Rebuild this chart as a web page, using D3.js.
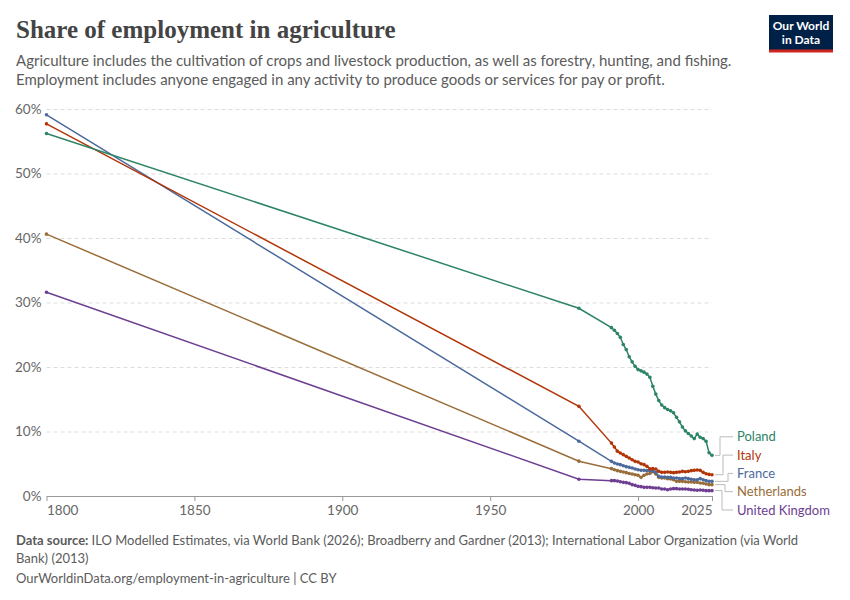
<!DOCTYPE html>
<html>
  <head>
    <meta charset="utf-8">
    <title>Share of employment in agriculture</title>
    <script src="https://cdn.jsdelivr.net/npm/d3@7"></script>
    <style>
      body { margin: 0; background: #fff; }
      text { font-family: Lato, "Noto Sans", sans-serif; }
    </style>
  </head>
  <body>
    <script>
     // data (share of employment in agriculture, %)
     let years = [1800, 1980,
       1991, 1992, 1993, 1994, 1995, 1996, 1997, 1998, 1999, 2000,
       2001, 2002, 2003, 2004, 2005, 2006, 2007, 2008, 2009, 2010,
       2011, 2012, 2013, 2014, 2015, 2016, 2017, 2018, 2019, 2020,
       2021, 2022, 2023, 2024, 2025];

     let poland = [56.2, 29.1,
       26.1, 25.7, 25.2, 24.6, 23.5, 22.7, 21.6, 20.8, 20.1, 19.6,
       19.4, 19.2, 18.9, 18.4, 17.0, 15.8, 14.8, 14.1, 13.7, 13.4,
       13.2, 12.9, 12.2, 11.5, 10.7, 10.1, 9.7, 9.3, 8.9, 9.6,
       9.1, 8.9, 8.5, 6.7, 6.3];
     let italy = [57.7, 13.9,
       8.2, 7.6, 6.95, 6.67, 6.41, 6.15, 5.89, 5.63, 5.37, 5.27,
       5.01, 4.86, 4.6, 4.2, 4.25, 4.19, 3.82, 3.67, 3.67, 3.72,
       3.67, 3.62, 3.67, 3.72, 3.82, 3.77, 3.82, 3.93, 3.98, 4.03,
       3.98, 3.67, 3.45, 3.35, 3.3];
     let france = [59.1, 8.5,
       5.37, 5.12, 4.96, 4.86, 4.7, 4.55, 4.44, 4.34, 4.19, 4.08,
       3.98, 3.98, 3.93, 3.93, 3.9, 3.67, 3.05, 2.94, 2.94, 2.89,
       2.89, 2.79, 2.79, 2.69, 2.69, 2.79, 2.69, 2.58, 2.53, 2.53,
       2.69, 2.53, 2.38, 2.27, 2.27];
     let netherlands = [40.6, 5.4,
       4.24, 4.08, 3.93, 3.82, 3.72, 3.62, 3.5, 3.4, 3.3, 3.2,
       2.89, 3.2, 3.4, 3.5, 3.75, 3.4, 2.89, 2.79, 2.79, 2.69,
       2.64, 2.53, 2.27, 2.27, 2.27, 2.22, 2.17, 2.17, 2.12, 2.12,
       2.02, 1.97, 1.86, 1.76, 1.76];
     let uk = [31.6, 2.6,
       2.38, 2.38, 2.33, 2.22, 2.12, 2.07, 1.96, 1.76, 1.65, 1.5,
       1.45, 1.34, 1.34, 1.34, 1.29, 1.24, 1.24, 1.09, 1.09, 0.98,
       1.09, 1.14, 1.14, 1.09, 1.09, 1.09, 1.04, 0.98, 0.93, 0.88,
       0.93, 0.88, 0.83, 0.83, 0.83];

     let countries = ["Poland", "Italy", "France", "Netherlands", "United Kingdom"];
     let seriesValues = [poland, italy, france, netherlands, uk];
     let colors = ["#2c8465", "#b13507", "#4c6a9c", "#996d39", "#6d3e91"];

     let yTicks = [0, 10, 20, 30, 40, 50, 60];
     let xTicks = [1800, 1850, 1900, 1950, 2000, 2025];

     let series = countries.map((name, i) => {
       return {
         name: name,
         color: colors[i],
         values: years.map((yr, j) => { return {year: yr, value: seriesValues[i][j]}; })
       };
     });

     // set the canvas
     let w = 850;
     let h = 600;
     let margin = {top: 109, right: 138, bottom: 104, left: 46.5};

     let svg = d3.select("body").append("svg")
       .attr("width", w)
       .attr("height", h)
       .style("display", "block");

     // header
     svg.append("text")
        .attr("x", 16)
        .attr("y", 38)
        .attr("fill", "#444")
        .style("font-family", "'Liberation Serif', 'DejaVu Serif', serif")
        .style("font-size", "25px")
        .style("font-weight", "bold")
        .text("Share of employment in agriculture");

     let subtitle = [
       "Agriculture includes the cultivation of crops and livestock production, as well as forestry, hunting, and fishing.",
       "Employment includes anyone engaged in any activity to produce goods or services for pay or profit."
     ];
     svg.selectAll(".subtitle")
        .data(subtitle)
        .enter()
        .append("text")
        .attr("class", "subtitle")
        .attr("x", 16)
        .attr("y", (d, i) => { return 66 + i * 19; })
        .attr("fill", "#5b5b5b")
        .style("font-size", "15px")
        .text((d) => d);

     // logo
     let logo = svg.append("g").attr("transform", "translate(769, 15)");
     logo.append("rect").attr("width", 64).attr("height", 35).attr("fill", "#002147");
     logo.append("rect").attr("y", 34.5).attr("width", 64).attr("height", 3).attr("fill", "#ce261e");
     logo.selectAll("text")
         .data(["Our World", "in Data"])
         .enter()
         .append("text")
         .attr("x", 32)
         .attr("y", (d, i) => { return 15 + i * 14; })
         .attr("text-anchor", "middle")
         .attr("fill", "#fff")
         .style("font-size", "12px")
         .style("font-weight", "bold")
         .text((d) => d);

     // scales
     let xScale = d3.scaleLinear()
                    .domain([1800, 2025])
                    .range([margin.left, w - margin.right]);
     let yScale = d3.scaleLinear()
                    .domain([0, 60])
                    .range([h - margin.bottom, margin.top]);

     // grid + y labels
     let yAxis = d3.axisLeft(yScale)
                   .tickValues(yTicks)
                   .tickSize(-(w - margin.right - margin.left))
                   .tickFormat((d) => d + "%");
     let gy = svg.append("g")
                 .attr("transform", "translate(" + margin.left + ", 0)")
                 .call(yAxis);
     gy.select(".domain").remove();
     gy.selectAll(".tick line")
       .attr("stroke", "#dddddd")
       .attr("stroke-dasharray", "4, 3")
       .filter((d) => d === 0).remove();
     gy.selectAll(".tick text")
       .attr("x", -5)
       .attr("fill", "#666")
       .style("font-size", "13.5px")
       .style("font-family", "Lato, sans-serif");

     // x axis
     let xAxis = d3.axisBottom(xScale)
                   .tickValues(xTicks)
                   .tickSizeInner(5)
                   .tickSizeOuter(0)
                   .tickFormat(d3.format("d"));
     let gx = svg.append("g")
                 .attr("transform", "translate(0, " + (h - margin.bottom) + ")")
                 .call(xAxis);
     gx.select(".domain").attr("stroke", "#999");
     gx.selectAll(".tick line").attr("stroke", "#999");
     gx.selectAll(".tick text")
       .attr("y", 9)
       .attr("fill", "#666")
       .style("font-size", "13.5px")
       .style("font-family", "Lato, sans-serif")
       .attr("text-anchor", (d, i) => i === 0 ? "start" : (i === xTicks.length - 1 ? "end" : "middle"));

     // lines
     let line = d3.line()
                  .x((d) => xScale(d.year))
                  .y((d) => yScale(d.value));

     let g = svg.append("g");
     let sg = g.selectAll(".series")
               .data(series.slice().reverse())
               .enter()
               .append("g")
               .attr("class", "series");
     sg.append("path")
       .attr("d", (d) => line(d.values))
       .attr("fill", "none")
       .attr("stroke", (d) => d.color)
       .attr("stroke-width", 1.5);
     sg.selectAll("circle")
       .data((d) => d.values.map((v) => ({year: v.year, value: v.value, color: d.color})))
       .enter()
       .append("circle")
       .attr("cx", (d) => xScale(d.year))
       .attr("cy", (d) => yScale(d.value))
       .attr("r", 1.8)
       .attr("fill", (d) => d.color);

     // end labels: the crowded group is centred on the mean end value, then kept above the bottom limit
     let labelGap = 18.3;
     let labels = series.map((s) => {
       let last = s.values[s.values.length - 1];
       return {name: s.name, color: s.color, y0: yScale(last.value)};
     }).sort((a, b) => a.y0 - b.y0);
     let meanY = d3.mean(labels, (d) => d.y0);
     let maxY = h - margin.bottom + 14;
     let shift = Math.min(0, maxY - (meanY + labelGap * (labels.length - 1) / 2));
     labels.forEach((d, i) => {
       d.y = meanY + (i - (labels.length - 1) / 2) * labelGap + shift;
     });

     let xEnd = xScale(2025);
     let labelX = 737;
     let elbows = [720, 723, 728, 725, 722];
     svg.selectAll(".connector")
        .data(labels)
        .enter()
        .append("path")
        .attr("class", "connector")
        .attr("d", (d, i) => "M" + (xEnd + 3) + "," + d.y0 + "H" + elbows[i] + "V" + d.y + "H" + (labelX - 4))
        .attr("fill", "none")
        .attr("stroke", "#bbb")
        .attr("stroke-width", 1);
     svg.selectAll(".end-label")
        .data(labels)
        .enter()
        .append("text")
        .attr("class", "end-label")
        .attr("x", labelX)
        .attr("y", (d) => d.y)
        .attr("dy", "0.35em")
        .attr("fill", (d) => d.color)
        .style("font-size", "13px")
        .text((d) => d.name);

     // footer
     let foot = svg.append("g").attr("fill", "#5b5b5b").style("font-size", "13px");
     let f1 = foot.append("text").attr("x", 16).attr("y", 545);
     f1.append("tspan").style("font-weight", "bold").text("Data source: ");
     f1.append("tspan").text("ILO Modelled Estimates, via World Bank (2026); Broadberry and Gardner (2013); International Labor Organization (via World");
     foot.append("text").attr("x", 16).attr("y", 563).text("Bank) (2013)");
     foot.append("text").attr("x", 16).attr("y", 583).text("OurWorldinData.org/employment-in-agriculture | CC BY");
    </script>
  </body>
</html>
